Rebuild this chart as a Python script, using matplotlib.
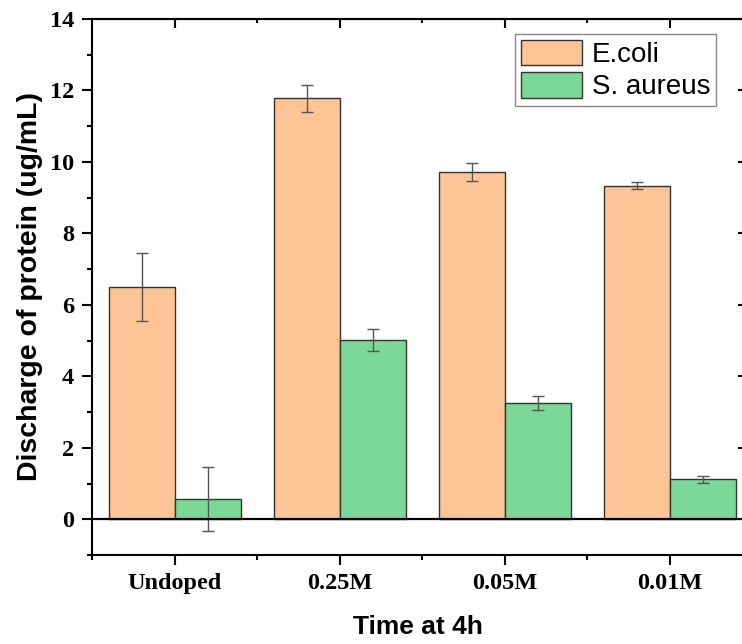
import matplotlib.pyplot as plt
import numpy as np
from matplotlib.ticker import MultipleLocator

categories = ["Undoped", "0.25M", "0.05M", "0.01M"]
ecoli = [6.5, 11.78, 9.72, 9.33]
ecoli_err = [0.96, 0.38, 0.25, 0.1]
saureus = [0.56, 5.02, 3.25, 1.12]
saureus_err = [0.9, 0.31, 0.2, 0.1]
series_names = ["E.coli", "S. aureus"]

plt.rcParams['font.family'] = ['Liberation Sans', 'DejaVu Sans']

fig = plt.figure(figsize=(7.42, 6.44), dpi=100)
ax = fig.add_axes([0.124, 0.1382, 0.8785, 0.8323])

x = np.arange(1, len(categories) + 1)
width = 0.4
err_style = dict(ecolor='#555555', elinewidth=1, capsize=4, capthick=1)
b1 = ax.bar(x - width / 2, ecoli, width, color='#FDC596', edgecolor='#333333',
            linewidth=1, yerr=ecoli_err, error_kw=err_style, zorder=2)
b2 = ax.bar(x + width / 2, saureus, width, color='#7BD897', edgecolor='#333333',
            linewidth=1, yerr=saureus_err, error_kw=err_style, zorder=2)
ax.axhline(0, color='black', linewidth=1.6, zorder=3)

ax.set_xlim(0.5, 4.45)
ax.set_ylim(-1, 14)
ax.set_xticks(x)
ax.set_xticklabels(categories)
ax.xaxis.set_minor_locator(MultipleLocator(0.5))
ax.yaxis.set_major_locator(MultipleLocator(2))
ax.yaxis.set_minor_locator(MultipleLocator(1))

for s in ax.spines.values():
    s.set_linewidth(1.5)

ax.tick_params(axis='both', which='major', length=7, width=1.5, direction='out',
               labelsize=17.5, pad=6)
ax.tick_params(axis='both', which='minor', length=3.5, width=1.5, direction='out')
for lbl in ax.get_xticklabels() + ax.get_yticklabels():
    lbl.set_fontfamily('Liberation Serif')
    lbl.set_fontweight('bold')

# top and right: inward ticks, no labels
top = ax.secondary_xaxis('top')
top.set_xticks(x)
top.xaxis.set_minor_locator(MultipleLocator(0.5))
top.tick_params(which='major', direction='in', length=6.5, width=1.5, labeltop=False)
top.tick_params(which='minor', direction='in', length=3, width=1.5)
top.spines['top'].set_linewidth(1.5)

right = ax.secondary_yaxis('right')
right.yaxis.set_major_locator(MultipleLocator(2))
right.tick_params(which='major', direction='in', length=4, width=1.5, labelright=False)
right.tick_params(which='minor', right=False)
right.spines['right'].set_linewidth(1.5)

ax.set_ylabel("Discharge of protein (ug/mL)", fontsize=20.5, fontweight='bold')
ax.yaxis.set_label_coords(-0.075, 0.5)
ax.set_xlabel("Time at 4h", fontsize=19, fontweight='bold', labelpad=15)

leg = ax.legend([b1, b2], series_names, loc='upper right',
                bbox_to_anchor=(0.957, 0.972), borderaxespad=0, fontsize=20,
                handlelength=2.2, handleheight=1.05, labelspacing=0.15,
                borderpad=0.2, handletextpad=0.35, fancybox=False,
                framealpha=1, edgecolor='#888888')
leg.get_frame().set_linewidth(1)

fig.savefig("out.png", dpi=100)
